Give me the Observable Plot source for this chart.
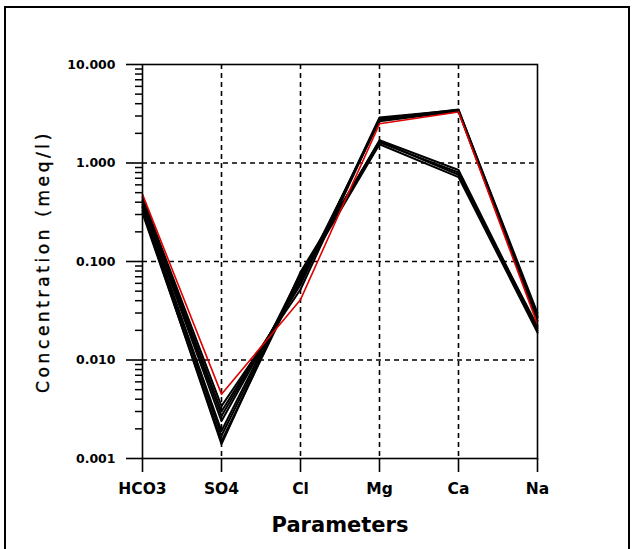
<!DOCTYPE html>
<html>
<head>
<meta charset="utf-8">
<script src="https://cdn.jsdelivr.net/npm/d3@7"></script>
<script src="https://cdn.jsdelivr.net/npm/@observablehq/plot@0.6"></script>
<style>
  html, body { margin: 0; padding: 0; background: #fff; }
  #wrap { position: relative; width: 632px; height: 549px; overflow: hidden; }
  #border { position: absolute; left: 4px; top: 6px; width: 622px; height: 600px;
            border-left: 2px solid #000; border-top: 2px solid #000; border-right: 2px solid #000; }
  #chart { position: absolute; left: 0; top: 0; }
</style>
</head>
<body>
<div id="wrap"><div id="chart"></div><div id="border"></div></div>
<script>
const params = ["HCO3", "SO4", "Cl", "Mg", "Ca", "Na"];

// concentrations (meq/l) per sample, in the order of params
const redSample = [0.48, 0.0045, 0.041, 2.5, 3.3, 0.023];
const black1 = [0.45, 0.0034, 0.052, 2.8, 3.5, 0.028];
const black2 = [0.42, 0.0030, 0.058, 2.9, 3.45, 0.030];
const black3 = [0.40, 0.0027, 0.062, 2.75, 3.4, 0.027];
const black4 = [0.38, 0.0024, 0.066, 2.65, 3.35, 0.025];
const black5 = [0.35, 0.0017, 0.072, 1.7, 0.85, 0.021];
const black6 = [0.33, 0.0014, 0.078, 1.62, 0.80, 0.020];
const black7 = [0.31, 0.0015, 0.068, 1.55, 0.72, 0.019];
const black8 = [0.36, 0.0019, 0.075, 1.66, 0.76, 0.022];

const majorTicks = [0.001, 0.01, 0.1, 1, 10];
const gridY = [0.01, 0.1, 1];
const gridX = ["SO4", "Cl", "Mg", "Ca"];

const blackSeries = [black1, black2, black3, black4, black5, black6, black7, black8];
const toRows = (vals, id) => vals.map((v, i) => ({sample: id, param: params[i], value: v}));
const blackRows = blackSeries.flatMap((s, k) => toRows(s, "s" + k));
const redRows = toRows(redSample, "red");

const minorTicks = [];
for (const d of [0.001, 0.01, 0.1, 1]) for (let m = 2; m <= 9; m++) minorTicks.push(+(d * m).toPrecision(3));

const font = "'DejaVu Sans', 'Liberation Sans', Arial, sans-serif";

const chart = Plot.plot({
  width: 632,
  height: 549,
  marginTop: 64,
  marginBottom: 91,
  marginLeft: 142,
  marginRight: 95,
  style: {fontFamily: font, color: "#000", background: "transparent"},
  x: {type: "point", domain: params, padding: 0, label: null},
  y: {type: "log", domain: [0.001, 10], label: null},
  marks: [
    Plot.ruleX(gridX, {stroke: "#000", strokeWidth: 1.6, strokeDasharray: "5,4"}),
    Plot.ruleY(gridY, {stroke: "#000", strokeWidth: 1.6, strokeDasharray: "5,4"}),
    Plot.line(blackRows, {x: "param", y: "value", z: "sample", stroke: "#000", strokeWidth: 2}),
    Plot.line(redRows, {x: "param", y: "value", stroke: "#e00000", strokeWidth: 1.6}),
    Plot.frame({stroke: "#000", strokeWidth: 1.6}),
    Plot.axisY({ticks: minorTicks, tickSize: 7, tickFormat: () => "", strokeWidth: 1.5, label: null}),
    Plot.axisY({ticks: majorTicks, tickSize: 16, tickPadding: 11, tickFormat: d3.format(".3f"),
                fontSize: 12.5, fontWeight: "bold", strokeWidth: 1.6, label: null}),
    Plot.axisX({tickSize: 14, tickPadding: 10, fontSize: 15.5, fontWeight: "bold", strokeWidth: 1.6, label: null}),
    Plot.text(["Parameters"], {frameAnchor: "bottom", dy: 73, fontSize: 21, fontWeight: "bold", text: d => d}),
    Plot.text(["Concentration (meq/l)"], {frameAnchor: "left", textAnchor: "middle", dx: -99, rotate: -90,
                fontSize: 17, fill: "#000", text: d => d})
  ]
});

chart.querySelectorAll("text").forEach(t => {
  if (t.textContent === "Concentration (meq/l)") {
    t.setAttribute("letter-spacing", "3.6");
    t.setAttribute("stroke", "#000");
    t.setAttribute("stroke-width", "0.4");
  }
});
document.getElementById("chart").appendChild(chart);
</script>
</body>
</html>
